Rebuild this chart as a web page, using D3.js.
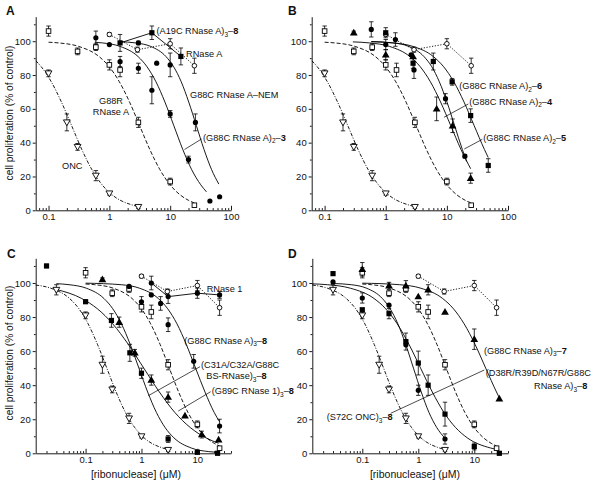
<!DOCTYPE html>
<html><head><meta charset="utf-8">
<script src="https://cdn.jsdelivr.net/npm/d3@7"></script>
<style>
body{margin:0;background:#fff}
text{font-family:"Liberation Sans",Arial,Helvetica,sans-serif;fill:#111}
</style>
</head><body>
<svg id="c" width="600" height="485" xmlns="http://www.w3.org/2000/svg"></svg>
<script>
// ---------------- DATA ([x µM, % of control, error]) ----------------
const xTicksAB = [0.1, 1, 10, 100];
const xTicksCD = [0.1, 1, 10];
const yTicks = [0, 20, 40, 60, 80, 100];

const ONC_AB = [[0.1,81,2],[0.2,52,5],[0.3,37.5,2],[0.6,20.5,3],[1,10,1],[3,2,1]];
const ONC_CD = [[0.03,96,3],[0.1,81,2],[0.2,52,5],[0.3,37.5,2],[0.6,20.5,3],[1,10,1],[3,2,1]];
const G88R = [[0.1,106,3],[0.3,94,2],[0.6,96.5,2],[1,86,3],[1.5,83,4],[3,52,3],[10,17,2],[25,3,0]];
const RNaseA = [[1,104,1],[2.9,95,1.5],[10,98.5,3],[25,85.5,4.5]];
const A19C_3_8 = [[1.5,99,5],[5,105,4],[15,91,5]];
const G88C_2_3 = [[0.6,102,4],[1,98,0],[1.5,88,3],[3,84,3],[5,71,8],[10,57,2],[20,30,2],[45,5.5,0]];
const G88C_NEM = [[3,99,1],[6,87,0],[10,86,7],[26,52,5],[65,8,0]];
const G88C_2_6 = [[1,105,3],[2.8,87,3],[6,88,5],[12.2,76,2],[24.5,56,4],[47.5,26.5,4]];
const G88C_2_4 = [[0.58,107,4.5],[1,98,3],[1.44,101,4],[2.6,92,0],[2.9,83,5],[9.5,66,3],[19.7,32,1]];
const G88C_2_5 = [[0.3,105,1],[1,92,3],[2.8,91,0],[6.8,60,7],[12.4,50,4],[24.5,19,3]];
const RNase1 = [[1.5,100,4],[3,92,4],[10,94,3],[25,93,2]];
const G88C_3_8 = [[0.6,98,0],[1,89,3],[1.5,93,0],[2.2,88,4],[3,75.5,4],[8.6,54,4],[25,16,4]];
const C31A_3_8 = [[0.02,110,1],[0.1,89,1],[0.29,78,4],[0.62,59,5],[1,47,3],[3,8.4,2],[10,0.6,0],[23,0,0]];
const G89C_3_8 = [[0.2,102,1],[0.4,77,3],[0.76,59,2],[1.5,43,3],[3,33,3],[6,22,0],[12,11,2],[24,8,0]];
const G88C_3_7 = [[0.1,108,4],[0.3,98.4,2],[0.6,98.4,3],[1,92,0],[1.5,96,3],[3,83,0],[10,67,6],[28,32,0]];
const D38R_3_8 = [[0.03,105.5,0],[0.1,84.3,0],[0.3,82,3],[0.6,65.6,5],[1,53,7],[1.5,40,6],[3,23,7],[10,4,2],[28,0,0]];
const S72C_3_8 = [[0.03,100.6,0],[0.1,91.2,3],[0.3,87,0],[0.6,63.7,0],[1,37,3],[3,8.4,3]];

// fitted curves ([x, y])
const fitONC_AB = [[0.062,88.4],[0.0759,84.9],[0.111,76],[0.163,64],[0.24,50],[0.352,36],[0.517,24],[0.759,15.1],[1.114,9.1],[2.4,3.1],[3,2.2]];
const fitONC_CD = [[0.0128,98.8],[0.024,96.9],[0.0517,90.9],[0.0759,84.9],[0.111,76],[0.163,64],[0.24,50],[0.352,36],[0.517,24],[0.759,15.1],[1.114,9.1],[2.4,3.1],[3,2.2]];
const fitG88R = [[0.1,99.4],[0.146,99],[0.315,96.9],[0.678,90.9],[0.996,84.9],[1.46,76],[2.15,64],[3.15,50],[4.62,36],[6.79,24],[9.96,15.1],[14.6,9.1],[20,5.9],[25,4.3]];
const fitG88C_2_3 = [[0.575,99.4],[0.766,99],[1.51,96.9],[2.97,90.9],[4.16,84.9],[5.84,76],[8.2,64],[11.5,50],[16.1,36],[22.6,24],[31.8,15.1],[39.5,10.9]];
const fitNEM = [[1.47,99.7],[2.7,99],[4.8,96.9],[8.54,90.9],[11.4,84.9],[15.2,76],[20.2,64],[27,50],[36,36],[48,24],[63,15.5]];
const fitG88C_2_6 = [[0.58,99.7],[1.3,99],[2.8,96.9],[6.02,90.9],[8.85,84.9],[13,76],[19.1,64],[28,50],[41.1,36],[47.5,31.2]];
const fitG88C_2_4 = [[0.58,99.8],[1.34,99],[2.39,96.9],[4.23,90.9],[5.66,84.9],[7.53,76],[10.05,64],[13.4,50],[17.9,36],[21,28.9]];
const fitG88C_2_5 = [[0.29,99.6],[0.538,99],[1.16,96.9],[2.49,90.9],[3.67,84.9],[5.38,76],[7.9,64],[11.6,50],[17,36],[24.5,24.6]];
const fitG88C_3_8 = [[0.1,99.9],[0.432,99],[0.93,96.9],[2.0,90.9],[2.94,84.9],[4.32,76],[6.33,64],[9.3,50],[13.7,36],[20,24],[25,18.5]];
const fitC31A = [[0.03,99.6],[0.0506,99],[0.104,96.9],[0.213,90.9],[0.306,84.9],[0.438,76],[0.628,64],[0.9,50],[1.29,36],[1.85,24],[2.65,15.1],[3.8,9.1],[7.8,3.1],[16,1],[23,0.6]];
const fitG89C = [[0.03,96.2],[0.0851,90.9],[0.162,84.9],[0.306,76],[0.58,64],[1.1,50],[2.09,36],[3.95,24],[7.49,15.1],[14.2,9.1],[24,5.9]];
const fitG88C_3_7 = [[0.1,99.9],[0.464,99],[1.12,96.9],[2.72,90.9],[4.24,84.9],[6.59,76],[10.3,64],[16,50],[24.9,36],[28,32.6]];
const fitD38R = [[0.0128,99.5],[0.0237,99],[0.0618,96.9],[0.162,90.9],[0.261,84.9],[0.421,76],[0.681,64],[1.1,50],[1.78,36],[2.87,24],[4.64,15.1],[7.49,9.1],[19.6,3.1],[28,2]];
const fitS72C = [[0.03,99.7],[0.0635,99],[0.12,96.9],[0.228,90.9],[0.314,84.9],[0.432,76],[0.595,64],[0.82,50],[1.13,36],[1.55,24],[2.14,15.1],[3,8.8]];

// ---------------- DRAWING ----------------
const svg = d3.select('#c');
svg.append('rect').attr('width',600).attr('height',485).attr('fill','#fff');
const DASH = {onc:'3.5,1.5,1,1.5', g88r:'4,2', rna:'1.2,1.6', solid:null};

function drawMarker(g, type, x, y){
  const k = 'black';
  if(type==='circO') g.append('circle').attr('cx',x).attr('cy',y).attr('r',2.3).attr('fill','#fff').attr('stroke',k).attr('stroke-width',0.9);
  else if(type==='circF') g.append('circle').attr('cx',x).attr('cy',y).attr('r',2.6).attr('fill',k);
  else if(type==='sqO') g.append('rect').attr('x',x-2.3).attr('y',y-2.3).attr('width',4.6).attr('height',4.6).attr('fill','#fff').attr('stroke',k).attr('stroke-width',0.9);
  else if(type==='sqF') g.append('rect').attr('x',x-2.6).attr('y',y-2.6).attr('width',5.2).attr('height',5.2).attr('fill',k);
  else if(type==='triF') g.append('path').attr('d',d3.symbol(d3.symbolTriangle,26)()).attr('transform',`translate(${x},${y+0.5})`).attr('fill',k);
  else if(type==='triD') g.append('path').attr('d',d3.symbol(d3.symbolTriangle,20)()).attr('transform',`translate(${x},${y-0.5}) rotate(180)`).attr('fill','#fff').attr('stroke',k).attr('stroke-width',0.9);
}

function richText(g, x, y, parts, anchor){
  const t = g.append('text').attr('x',x).attr('y',y).attr('font-size',9.2).attr('text-anchor',anchor||'start');
  parts.forEach(p=>{
    const s = t.append('tspan').text(p[0]);
    if(p[1]==='sub') s.attr('font-size',6.5).attr('dy',2.5);
    if(p[1]==='b') s.attr('font-weight','bold');
    if(p[2]==='up') s.attr('dy',-2.5);
  });
  return t;
}

function panel(cfg){
  const sx = d3.scaleLog().domain(cfg.xd).range(cfg.xr);
  const sy = d3.scaleLinear().domain([0,114.5]).range(cfg.yr);
  const g = svg.append('g');
  const y0 = cfg.yr[0];
  const minors = sx.ticks(40).filter(v=>!cfg.xt.includes(v));
  g.append('g').attr('transform',`translate(0,${y0})`)
    .call(d3.axisBottom(sx).tickValues(minors).tickFormat('').tickSizeInner(-2.2).tickSizeOuter(0))
    .call(a=>a.select('.domain').remove());
  const xa = g.append('g').attr('transform',`translate(0,${y0})`)
    .call(d3.axisBottom(sx).tickValues(cfg.xt).tickFormat(d=>String(d)).tickSizeInner(-4.5).tickSizeOuter(0).tickPadding(3));
  xa.selectAll('text').attr('font-size',9.5).attr('fill','#111').attr('font-family','"Liberation Sans",Arial,sans-serif');
  const ya = g.append('g').attr('transform',`translate(${cfg.xr[0]},0)`)
    .call(d3.axisLeft(sy).tickValues(yTicks).tickSizeInner(3).tickSizeOuter(0).tickPadding(2));
  ya.selectAll('text').attr('font-size',9.5).attr('fill','#111').attr('font-family','"Liberation Sans",Arial,sans-serif');
  g.append('g').attr('transform',`translate(${cfg.xr[0]},0)`)
    .call(d3.axisLeft(sy).tickValues([10,30,50,70,90,110]).tickFormat('').tickSizeInner(1.8).tickSizeOuter(0))
    .call(a=>a.select('.domain').remove());
  g.selectAll('.domain,.tick line').attr('stroke','#000').attr('stroke-width',0.9);

  const line = d3.line().x(d=>sx(d[0])).y(d=>sy(d[1]));
  cfg.series.forEach(s=>{
    if(s.fit){
      g.append('path').attr('d',line.curve(d3.curveMonotoneX)(s.fit)).attr('fill','none')
        .attr('stroke','#000').attr('stroke-width',0.9).attr('stroke-dasharray',s.dash||null);
    }
    if(s.connect){
      g.append('path').attr('d',line.curve(d3.curveLinear)(s.data)).attr('fill','none')
        .attr('stroke','#000').attr('stroke-width',0.9).attr('stroke-dasharray',s.dash||null);
    }
  });
  cfg.series.forEach(s=>{
    s.data.forEach(d=>{
      if(d[2]>0){
        const x=sx(d[0]), ya1=sy(d[1]+d[2]), ya2=sy(d[1]-d[2]);
        g.append('path').attr('d',`M${x},${ya1}V${ya2}M${x-2.2},${ya1}H${x+2.2}M${x-2.2},${ya2}H${x+2.2}`)
          .attr('stroke','#000').attr('stroke-width',0.8).attr('fill','none');
      }
    });
  });
  cfg.series.forEach(s=>{
    s.data.forEach(d=>drawMarker(g,s.m,sx(d[0]),sy(d[1])));
  });
  g.append('text').attr('x',cfg.letter[1]).attr('y',cfg.letter[2]).attr('font-size',12).attr('font-weight','bold').text(cfg.letter[0]);
  cfg.labels.forEach(l=>richText(g,l.x,l.y,l.parts,l.anchor));
  cfg.leaders.forEach(l=>g.append('line').attr('x1',l[0]).attr('y1',l[1]).attr('x2',l[2]).attr('y2',l[3]).attr('stroke','#000').attr('stroke-width',0.7));
  return {sx,sy};
}

panel({xd:[0.0615,100], xr:[35.7,231], yr:[210.3,16.7], xt:xTicksAB, letter:['A',6,15],
  series:[
    {data:RNaseA, m:'circO', connect:true, dash:DASH.rna},
    {data:A19C_3_8, m:'sqF', connect:true},
    {data:G88R, m:'sqO', fit:fitG88R, dash:DASH.g88r},
    {data:ONC_AB, m:'triD', fit:fitONC_AB, dash:DASH.onc},
    {data:G88C_NEM, m:'circF', fit:fitNEM},
    {data:G88C_2_3, m:'circF', fit:fitG88C_2_3}
  ],
  labels:[
    {x:156.5,y:34,parts:[['(A19C RNase A)'],['3','sub'],['–','', 'up'],['8','b']]},
    {x:186,y:56.5,parts:[['RNase A']]},
    {x:190,y:98,parts:[['G88C RNase A–NEM']]},
    {x:203,y:140.5,parts:[['(G88C RNase A)'],['2','sub'],['–','', 'up'],['3','b']]},
    {x:111,y:103.5,parts:[['G88R']],anchor:'middle'},
    {x:111,y:114.5,parts:[['RNase A']],anchor:'middle'},
    {x:62,y:168.5,parts:[['ONC']]}
  ],
  leaders:[[201.5,139,184.5,149.5]]
});

panel({xd:[0.0615,100], xr:[311.7,508], yr:[210.3,16.7], xt:xTicksAB, letter:['B',288,15],
  series:[
    {data:RNaseA, m:'circO', connect:true, dash:DASH.rna},
    {data:G88R, m:'sqO', fit:fitG88R, dash:DASH.g88r},
    {data:ONC_AB, m:'triD', fit:fitONC_AB, dash:DASH.onc},
    {data:G88C_2_6, m:'sqF', fit:fitG88C_2_6},
    {data:G88C_2_4, m:'circF', fit:fitG88C_2_4},
    {data:G88C_2_5, m:'triF', fit:fitG88C_2_5}
  ],
  labels:[
    {x:459.3,y:89,parts:[['(G88C RNase A)'],['2','sub'],['–','', 'up'],['6','b']]},
    {x:469.3,y:104.5,parts:[['(G88C RNase A)'],['2','sub'],['–','', 'up'],['4','b']]},
    {x:483.3,y:141,parts:[['(G88C RNase A)'],['2','sub'],['–','', 'up'],['5','b']]}
  ],
  leaders:[[468.3,104,444,117.3],[482.3,139.3,464.3,149]]
});

panel({xd:[0.0128,40], xr:[35.7,231], yr:[453.3,258.3], xt:xTicksCD, letter:['C',7,258],
  series:[
    {data:RNaseA, m:'circO', connect:true, dash:DASH.rna},
    {data:RNase1, m:'circF', connect:true},
    {data:G88R, m:'sqO', fit:fitG88R, dash:DASH.g88r},
    {data:ONC_CD, m:'triD', fit:fitONC_CD, dash:DASH.onc},
    {data:G88C_3_8, m:'circF', fit:fitG88C_3_8},
    {data:C31A_3_8, m:'sqF', fit:fitC31A},
    {data:G89C_3_8, m:'triF', fit:fitG89C}
  ],
  labels:[
    {x:206.7,y:292,parts:[['RNase 1']]},
    {x:184.3,y:343.5,parts:[['(G88C RNase A)'],['3','sub'],['–','', 'up'],['8','b']]},
    {x:201,y:367.5,parts:[['(C31A/C32A/G88C']]},
    {x:266.7,y:379,parts:[['BS-RNase)'],['3','sub'],['–','', 'up'],['8','b']],anchor:'end'},
    {x:211.7,y:394,parts:[['(G89C RNase 1)'],['3','sub'],['–','', 'up'],['8','b']]}
  ],
  leaders:[[200,366.7,148.3,395.7],[210.7,391.7,178.3,411]]
});

panel({xd:[0.0128,40], xr:[312.3,508], yr:[453.3,258.3], xt:xTicksCD, letter:['D',288,258],
  series:[
    {data:RNaseA, m:'circO', connect:true, dash:DASH.rna},
    {data:G88R, m:'sqO', fit:fitG88R, dash:DASH.g88r},
    {data:ONC_CD, m:'triD', fit:fitONC_CD, dash:DASH.onc},
    {data:G88C_3_7, m:'triF', fit:fitG88C_3_7},
    {data:D38R_3_8, m:'sqF', fit:fitD38R},
    {data:S72C_3_8, m:'circF', fit:fitS72C}
  ],
  labels:[
    {x:484,y:353.5,parts:[['(G88C RNase A)'],['3','sub'],['–','', 'up'],['7','b']]},
    {x:485.7,y:376,parts:[['(D38R/R39D/N67R/G88C']]},
    {x:587.3,y:389,parts:[['RNase A)'],['3','sub'],['–','', 'up'],['8','b']],anchor:'end'},
    {x:326.7,y:420,parts:[['(S72C ONC)'],['3','sub'],['–','', 'up'],['8','b']]}
  ],
  leaders:[[484.3,370,390.7,413.3]]
});

// axis titles
svg.append('text').attr('transform','translate(13,113) rotate(-90)').attr('text-anchor','middle').attr('font-size',10.2).text('cell proliferation (% of control)');
svg.append('text').attr('transform','translate(13,353) rotate(-90)').attr('text-anchor','middle').attr('font-size',10.2).text('cell proliferation (% of control)');
svg.append('text').attr('x',136).attr('y',478).attr('text-anchor','middle').attr('font-size',10.5).text('[ribonuclease] (μM)');
svg.append('text').attr('x',415).attr('y',478).attr('text-anchor','middle').attr('font-size',10.5).text('[ribonuclease] (μM)');
</script>
</body></html>
